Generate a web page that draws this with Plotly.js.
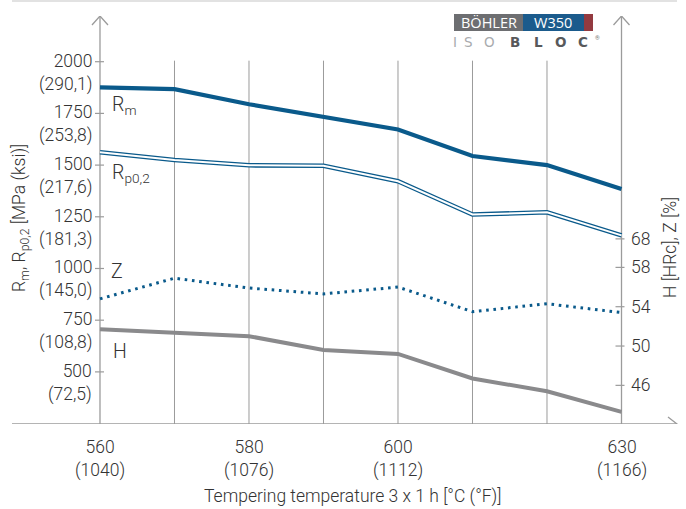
<!DOCTYPE html>
<html>
<head>
<meta charset="utf-8">
<script src="https://cdn.plot.ly/plotly-3.0.1.min.js"></script>
<style>html,body{margin:0;padding:0;background:#fff;}#chart{width:686px;height:509px;}</style>
</head>
<body>
<div id="chart"></div>
<script>
// ---- data ----
var temps = [560, 570, 580, 590, 600, 610, 620, 630];
var rm = [1876, 1867, 1794, 1734, 1672, 1544, 1500, 1384];
var rp02 = [1562, 1525, 1499, 1497, 1422, 1261, 1272, 1160];
var zVals = [54.8, 56.9, 55.9, 55.3, 56.0, 53.5, 54.3, 53.4];
var hVals = [51.7, 51.3, 51.0, 49.6, 49.2, 46.7, 45.4, 43.3];

var leftTickVals = [500, 750, 1000, 1250, 1500, 1750, 2000];
var leftTickKsi = ['(72,5)', '(108,8)', '(145,0)', '(181,3)', '(217,6)', '(253,8)', '(290,1)'];
var rightTickVals = [46, 50, 54, 58, 60.9];
var rightTickText = ['46', '50', '54', '58', '68'];
var xTickVals = [560, 580, 600, 630];
var xTickF = ['(1040)', '(1076)', '(1112)', '(1166)'];
var gridTemps = [570, 580, 590, 600, 610, 620];

// ---- layout helpers (pixel -> paper) ----
var ML = 12, MR = 9, MT = 16, MB = 85, W = 686, H = 509;
var PW = W - ML - MR, PH = H - MT - MB;
function PX(x) { return (x - ML) / PW; }
function PY(y) { return (H - MB - y) / PH; }

var FONT = 'Roboto, "Liberation Sans", Arial, sans-serif';
var FS = 17.5;
var TXT = '#333333';
var AX = '#9b9b9b';
var BLUE = '#0a5a8b';
var GREY = '#8a8a8c';
var X0 = 560, X1 = 630, YMIN = 248, YMAX = 2221;

var traces = [
  {x: temps, y: rm, type: 'scatter', mode: 'lines', line: {color: BLUE, width: 4.2}, hoverinfo: 'skip'},
  {x: temps, y: rp02, type: 'scatter', mode: 'lines', line: {color: BLUE, width: 4.6}, hoverinfo: 'skip'},
  {x: temps, y: rp02, type: 'scatter', mode: 'lines', line: {color: '#ffffff', width: 2.0}, hoverinfo: 'skip'},
  {x: temps, y: zVals, yaxis: 'y2', type: 'scatter', mode: 'lines', line: {color: BLUE, width: 3, dash: '2.6px,4.7px'}, hoverinfo: 'skip'},
  {x: temps, y: hVals, yaxis: 'y2', type: 'scatter', mode: 'lines', line: {color: GREY, width: 4}, hoverinfo: 'skip'}
];

var shapes = [];
var annotations = [];

// top light rule
shapes.push({type: 'line', xref: 'paper', yref: 'paper', x0: 0, x1: 1, y0: PY(1), y1: PY(1), line: {color: '#e2e2e2', width: 2}});

// vertical grid lines
gridTemps.forEach(function (t) {
  shapes.push({type: 'line', xref: 'x', yref: 'y', x0: t, x1: t, y0: YMIN, y1: 2005, line: {color: AX, width: 1}, layer: 'below'});
});
// axes lines
shapes.push({type: 'line', xref: 'paper', yref: 'y', x0: 0, x1: 1, y0: YMIN, y1: YMIN, line: {color: AX, width: 1.3}, layer: 'below'});
shapes.push({type: 'line', xref: 'x', yref: 'paper', x0: X0, x1: X0, y0: 0, y1: 1, line: {color: AX, width: 1.3}, layer: 'below'});
shapes.push({type: 'line', xref: 'x', yref: 'paper', x0: X1, x1: X1, y0: 0, y1: 1, line: {color: AX, width: 1.3}, layer: 'below'});
// arrows
[X0, X1].forEach(function (xv) {
  shapes.push({type: 'path', xref: 'x', yref: 'y', xsizemode: 'pixel', ysizemode: 'pixel', xanchor: xv, yanchor: YMAX,
    path: 'M-8,-9 L0,0 L8,-9', line: {color: AX, width: 1.3}});
});
shapes.push({type: 'path', xref: 'paper', yref: 'y', xsizemode: 'pixel', ysizemode: 'pixel', xanchor: 1, yanchor: YMIN,
  path: 'M-9,7 L0,0 L-9,-7', line: {color: AX, width: 1.3}});

// left ticks and labels
leftTickVals.forEach(function (v, i) {
  shapes.push({type: 'line', xref: 'x', yref: 'y', xsizemode: 'pixel', xanchor: X0, x0: -5, x1: 4, y0: v, y1: v, line: {color: AX, width: 1.2}});
  annotations.push({xref: 'x', yref: 'y', x: X0, y: v, xanchor: 'right', yanchor: 'middle', xshift: -6, yshift: -11,
    text: v + '<br>' + leftTickKsi[i], showarrow: false, align: 'right', font: {family: FONT, size: FS, color: TXT, weight: 300}});
});
// right ticks and labels
rightTickVals.forEach(function (v, i) {
  shapes.push({type: 'line', xref: 'x', yref: 'y2', xsizemode: 'pixel', xanchor: X1, x0: -6, x1: 3, y0: v, y1: v, line: {color: AX, width: 1.2}});
  annotations.push({xref: 'x', yref: 'y2', x: X1, y: v, xanchor: 'left', yanchor: 'middle', xshift: 7,
    text: rightTickText[i], showarrow: false, font: {family: FONT, size: FS, color: TXT, weight: 300}});
});
// x tick labels
xTickVals.forEach(function (v, i) {
  annotations.push({xref: 'x', yref: 'paper', x: v, y: PY(435), xanchor: 'center', yanchor: 'top',
    text: v + '<br>' + xTickF[i], showarrow: false, align: 'center', font: {family: FONT, size: FS, color: TXT, weight: 300}});
});

// axis titles
annotations.push({xref: 'paper', yref: 'paper', x: PX(353), y: PY(496), xanchor: 'center', yanchor: 'middle', showarrow: false,
  text: 'Tempering temperature 3 x 1 h [°C (°F)]', font: {family: FONT, size: FS, color: TXT, weight: 300}});
annotations.push({xref: 'paper', yref: 'paper', x: PX(20), y: PY(218), xanchor: 'center', yanchor: 'middle', showarrow: false, textangle: -90,
  text: 'R<sub>m</sub>, R<sub>p0,2</sub> [MPa (ksi)]', font: {family: FONT, size: FS, color: TXT, weight: 300}});
annotations.push({xref: 'paper', yref: 'paper', x: PX(670), y: PY(248), xanchor: 'center', yanchor: 'middle', showarrow: false, textangle: -90,
  text: 'H [HRc], Z [%]', font: {family: FONT, size: FS, color: TXT, weight: 300}});

// series labels
var serLab = [
  ['R<sub>m</sub>', 110, 105],
  ['R<sub>p0,2</sub>', 110, 173],
  ['Z', 109, 271],
  ['H', 111, 351]
];
serLab.forEach(function (s) {
  annotations.push({xref: 'paper', yref: 'paper', x: PX(s[1]), y: PY(s[2]), xanchor: 'left', yanchor: 'middle', showarrow: false,
    text: s[0], font: {family: FONT, size: 19.5, color: TXT, weight: 300}});
});

// logo
shapes.push({type: 'rect', xref: 'paper', yref: 'paper', x0: PX(454), x1: PX(523), y0: PY(31), y1: PY(14), fillcolor: '#6d6e71', line: {width: 0}});
shapes.push({type: 'rect', xref: 'paper', yref: 'paper', x0: PX(523), x1: PX(584), y0: PY(31), y1: PY(14), fillcolor: '#1b5b8c', line: {width: 0}});
shapes.push({type: 'rect', xref: 'paper', yref: 'paper', x0: PX(584), x1: PX(593), y0: PY(31), y1: PY(14), fillcolor: '#933a40', line: {width: 0}});
annotations.push({xref: 'paper', yref: 'paper', x: PX(489), y: PY(22.5), xanchor: 'center', yanchor: 'middle', showarrow: false,
  text: 'BÖHLER', font: {family: '"Open Sans", "Liberation Sans", sans-serif', size: 14.5, color: '#ffffff'}});
annotations.push({xref: 'paper', yref: 'paper', x: PX(553), y: PY(22.5), xanchor: 'center', yanchor: 'middle', showarrow: false,
  text: 'W350', font: {family: '"Open Sans", "Liberation Sans", sans-serif', size: 14.5, color: '#ffffff'}});
var logoLetters = [['I', 455, '#a9abae', 400], ['S', 468, '#a9abae', 400], ['O', 489, '#a9abae', 400],
  ['B', 515, '#58595b', 700], ['L', 538, '#58595b', 700], ['O', 560, '#58595b', 700], ['C', 583, '#58595b', 700]];
logoLetters.forEach(function (l) {
  annotations.push({xref: 'paper', yref: 'paper', x: PX(l[1]), y: PY(42), xanchor: 'center', yanchor: 'middle', showarrow: false,
    text: l[0], font: {family: '"DejaVu Sans", sans-serif', size: 13.5, color: l[2], weight: l[3]}});
});
annotations.push({xref: 'paper', yref: 'paper', x: PX(597), y: PY(37), xanchor: 'center', yanchor: 'middle', showarrow: false,
  text: '®', font: {family: FONT, size: 6, color: '#777777'}});

var layout = {
  width: W, height: H,
  margin: {l: ML, r: MR, t: MT, b: MB, pad: 0},
  paper_bgcolor: '#ffffff', plot_bgcolor: 'rgba(0,0,0,0)',
  showlegend: false,
  xaxis: {range: [548.19, 637.45], visible: false, fixedrange: true},
  yaxis: {range: [YMIN, YMAX], visible: false, fixedrange: true},
  yaxis2: {range: [42.07, 83.57], overlaying: 'y', side: 'right', visible: false, fixedrange: true},
  shapes: shapes,
  annotations: annotations
};

Plotly.newPlot('chart', traces, layout, {displayModeBar: false, staticPlot: true});
</script>
</body>
</html>
